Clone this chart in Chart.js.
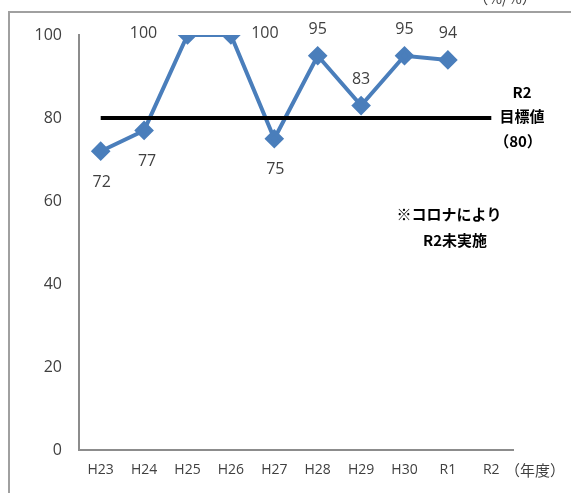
<!DOCTYPE html>
<html lang="ja">
<head>
<meta charset="UTF-8">
<title>chart</title>
<script src="https://cdn.jsdelivr.net/npm/chart.js"></script>
<style>
  body { margin: 0; background: #fff; }
  #wrap { width: 571px; height: 493px; }
</style>
</head>
<body>
<div id="wrap"><canvas id="rateChart" width="571" height="493"></canvas></div>
<script>
// categories and values
var years = ['H23', 'H24', 'H25', 'H26', 'H27', 'H28', 'H29', 'H30', 'R1', 'R2'];
var rates = [72, 77, 100, 100, 75, 95, 83, 95, 94, null];
var target = [80, 80, 80, 80, 80, 80, 80, 80, 80, 80];
var yTicks = [0, 20, 40, 60, 80, 100];
// where each value label sits relative to its point
var labelPos = ['below', 'below', 'left', 'right', 'below', 'above', 'above', 'above', 'above', 'above'];

var jp = '"Noto Sans CJK JP", "Liberation Sans", sans-serif';

// value labels + free text + outer frame
var extras = {
    id: 'extras',
    afterDatasetsDraw: function (chart) {
        var ctx = chart.ctx;
        var meta = chart.getDatasetMeta(1);
        ctx.save();
        ctx.fillStyle = '#404040';
        ctx.font = '16px "Open Sans", sans-serif';
        ctx.textAlign = 'center';
        ctx.textBaseline = 'middle';
        meta.data.forEach(function (pt, i) {
            if (rates[i] == null) return;
            var x = pt.x, y = pt.y;
            if (labelPos[i] == 'below') { y += 31; x += i == 1 ? 3 : 1; }
            if (labelPos[i] == 'above') { y -= 26; }
            if (labelPos[i] == 'left') { x -= 44; y -= 2; }
            if (labelPos[i] == 'right') { x += 34; y -= 2; }
            ctx.fillText(String(rates[i]), x, y);
        });
        ctx.restore();
    },
    afterDraw: function (chart) {
        var ctx = chart.ctx;
        ctx.save();
        // outer frame
        ctx.strokeStyle = '#a0a0a0';
        ctx.lineWidth = 2;
        ctx.beginPath();
        ctx.moveTo(9, 493);
        ctx.lineTo(9, 12);
        ctx.lineTo(571, 12);
        ctx.stroke();

        ctx.fillStyle = '#000';
        ctx.textAlign = 'center';
        ctx.textBaseline = 'middle';
        ctx.font = 'bold 15px ' + jp;
        ctx.fillText('R2', 522, 92);
        ctx.fillText('目標値', 522, 116);
        ctx.fillText('（80）', 518, 141);
        ctx.fillText('※コロナにより', 449, 214);
        ctx.fillText('R2未実施', 455, 240);

        ctx.fillStyle = '#404040';
        ctx.font = '15px ' + jp;
        ctx.fillText('（年度）', 535, 470);
        ctx.fillText('（%/%）', 505, -2);
        ctx.restore();
    }
};

var ctx = document.getElementById('rateChart').getContext('2d');
var chart = new Chart(ctx, {
    type: 'line',
    data: {
        labels: years,
        datasets: [{
            data: target,
            borderColor: '#000',
            borderWidth: 4,
            pointRadius: 0,
            fill: false
        }, {
            data: rates,
            borderColor: '#4a7ebb',
            backgroundColor: '#4a7ebb',
            borderWidth: 4,
            pointStyle: 'rectRot',
            pointRadius: 7,
            fill: false,
            spanGaps: false
        }]
    },
    options: {
        responsive: false,
        animation: false,
        layout: { padding: { left: 0, right: 58, top: 35, bottom: 0 } },
        plugins: { legend: { display: false }, tooltip: { enabled: false } },
        scales: {
            x: {
                offset: true,
                grid: { display: false, drawTicks: false },
                border: { display: true, color: '#8c8c8c', width: 2 },
                ticks: { color: '#404040', font: { size: 14, family: '"Open Sans", sans-serif' }, padding: 12 },
                afterFit: function (s) { s.height = 43; }
            },
            y: {
                min: 0,
                max: 100,
                afterBuildTicks: function (s) { s.ticks = yTicks.map(function (v) { return { value: v }; }); },
                grid: { display: false, drawTicks: false },
                border: { display: true, color: '#8c8c8c', width: 2 },
                ticks: { color: '#404040', font: { size: 16, family: '"Open Sans", sans-serif' }, padding: 17 },
                afterFit: function (s) { s.width = 79; }
            }
        }
    },
    plugins: [extras]
});
</script>
</body>
</html>
